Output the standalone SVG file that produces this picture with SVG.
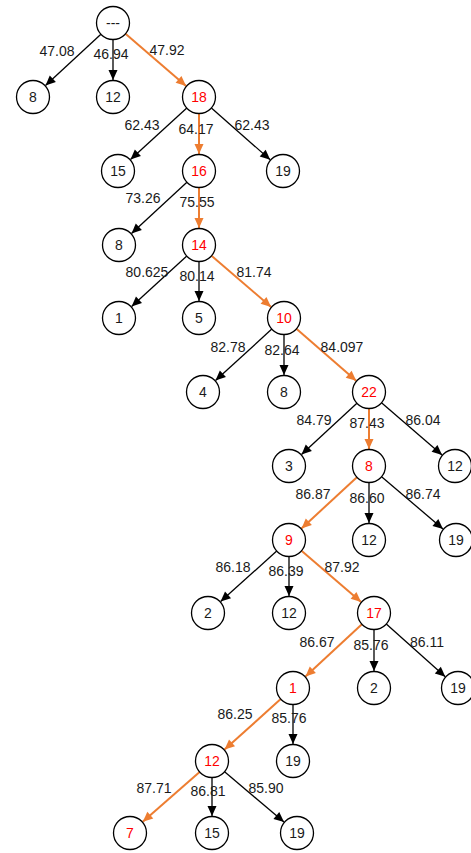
<svg xmlns="http://www.w3.org/2000/svg" width="471" height="853" viewBox="0 0 471 853">
<style>
.node circle{fill:#fff;stroke:#000;stroke-width:1.3}
.node text{font-family:"Liberation Sans",Arial,sans-serif;font-size:14px;text-anchor:middle;dominant-baseline:central;fill:#1a1a1a}
.node.hl text{fill:#ff0000}
.e{stroke:#000;stroke-width:1.3;fill:none;marker-end:url(#ab)}
.o{stroke:#ed7d31;stroke-width:2;fill:none;marker-end:url(#ao)}
.lbl text{font-family:"Liberation Sans",Arial,sans-serif;font-size:14px;text-anchor:middle;fill:#1a1a1a}
</style>
<defs>
<marker id="ab" markerUnits="userSpaceOnUse" viewBox="-10 -5 10 10" markerWidth="10" markerHeight="10" refX="0" refY="0" orient="auto" overflow="visible"><path d="M0,0 L-10,-4.5 L-10,4.5 Z" fill="#000"/></marker>
<marker id="ao" markerUnits="userSpaceOnUse" viewBox="-10 -5 10 10" markerWidth="10" markerHeight="10" refX="0" refY="0" orient="auto" overflow="visible"><path d="M0,0 L-10,-4.5 L-10,4.5 Z" fill="#ed7d31"/></marker>
</defs>
<g id="connectors">
<line class="e" x1="100.9" y1="34.2" x2="45.5" y2="85.5"/>
<line class="e" x1="113" y1="39.5" x2="113" y2="80"/>
<line class="o" x1="125.5" y1="33.8" x2="186.1" y2="85.9"/>
<line class="e" x1="186.8" y1="108.1" x2="130.5" y2="159.5"/>
<line class="o" x1="199" y1="113.5" x2="199" y2="154"/>
<line class="e" x1="211.4" y1="107.9" x2="270.2" y2="159.8"/>
<line class="e" x1="186.9" y1="182.2" x2="131.5" y2="233.5"/>
<line class="o" x1="199" y1="187.5" x2="199" y2="228"/>
<line class="e" x1="186.8" y1="256.1" x2="131.6" y2="306.5"/>
<line class="e" x1="199" y1="261.5" x2="199" y2="301"/>
<line class="o" x1="211.5" y1="255.8" x2="271.1" y2="306.9"/>
<line class="e" x1="271.8" y1="329.1" x2="215.5" y2="380.5"/>
<line class="e" x1="284" y1="334.5" x2="284" y2="375"/>
<line class="o" x1="296.4" y1="328.8" x2="356.2" y2="380.8"/>
<line class="e" x1="356.9" y1="403.2" x2="301.5" y2="454.5"/>
<line class="o" x1="369" y1="408.5" x2="369" y2="449"/>
<line class="e" x1="381.5" y1="402.8" x2="442.1" y2="454.9"/>
<line class="o" x1="356.9" y1="477.2" x2="301.5" y2="528.5"/>
<line class="e" x1="369" y1="482.5" x2="369" y2="523"/>
<line class="e" x1="381.6" y1="476.7" x2="443" y2="529"/>
<line class="e" x1="276.7" y1="551.1" x2="220.6" y2="601.6"/>
<line class="e" x1="289" y1="556.5" x2="289" y2="596"/>
<line class="o" x1="301.5" y1="550.8" x2="361.1" y2="601.9"/>
<line class="o" x1="361.9" y1="624.2" x2="305.5" y2="676.5"/>
<line class="e" x1="374" y1="629.5" x2="374" y2="671"/>
<line class="e" x1="386.3" y1="624" x2="445.3" y2="676.7"/>
<line class="o" x1="280.7" y1="699.1" x2="224.6" y2="749.6"/>
<line class="e" x1="293" y1="704.5" x2="293" y2="744"/>
<line class="o" x1="199.6" y1="771.9" x2="142.8" y2="821.8"/>
<line class="e" x1="212" y1="777.5" x2="212" y2="816"/>
<line class="e" x1="224.6" y1="771.7" x2="284" y2="822"/>
</g>
<g id="edge-labels" class="lbl">
<text x="57" y="56">47.08</text>
<text x="111" y="59">46.94</text>
<text x="167" y="55">47.92</text>
<text x="142" y="130">62.43</text>
<text x="196" y="134">64.17</text>
<text x="252" y="130">62.43</text>
<text x="143" y="203">73.26</text>
<text x="197" y="207">75.55</text>
<text x="147" y="277">80.625</text>
<text x="197" y="281">80.14</text>
<text x="254" y="277">81.74</text>
<text x="228" y="352">82.78</text>
<text x="282" y="355">82.64</text>
<text x="342" y="352">84.097</text>
<text x="314" y="425">84.79</text>
<text x="367" y="428">87.43</text>
<text x="423" y="425">86.04</text>
<text x="313" y="499">86.87</text>
<text x="367" y="503">86.60</text>
<text x="423" y="499">86.74</text>
<text x="233" y="572">86.18</text>
<text x="286" y="576">86.39</text>
<text x="342" y="572">87.92</text>
<text x="317" y="647">86.67</text>
<text x="371" y="650">85.76</text>
<text x="427" y="647">86.11</text>
<text x="235" y="719">86.25</text>
<text x="289" y="723">85.76</text>
<text x="154" y="793">87.71</text>
<text x="208" y="796">86.81</text>
<text x="266" y="793">85.90</text>
</g>
<g id="n0" class="node"><circle cx="113" cy="23" r="16.5"/><text x="113" y="23">---</text></g>
<g id="n1" class="node"><circle cx="33" cy="97" r="16.5"/><text x="33" y="97">8</text></g>
<g id="n2" class="node"><circle cx="113" cy="97" r="16.5"/><text x="113" y="97">12</text></g>
<g id="n3" class="node hl"><circle cx="199" cy="97" r="16.5"/><text x="199" y="97">18</text></g>
<g id="n4" class="node"><circle cx="118" cy="171" r="16.5"/><text x="118" y="171">15</text></g>
<g id="n5" class="node hl"><circle cx="199" cy="171" r="16.5"/><text x="199" y="171">16</text></g>
<g id="n6" class="node"><circle cx="283" cy="171" r="16.5"/><text x="283" y="171">19</text></g>
<g id="n7" class="node"><circle cx="119" cy="245" r="16.5"/><text x="119" y="245">8</text></g>
<g id="n8" class="node hl"><circle cx="199" cy="245" r="16.5"/><text x="199" y="245">14</text></g>
<g id="n9" class="node"><circle cx="119" cy="318" r="16.5"/><text x="119" y="318">1</text></g>
<g id="n10" class="node"><circle cx="199" cy="318" r="16.5"/><text x="199" y="318">5</text></g>
<g id="n11" class="node hl"><circle cx="284" cy="318" r="16.5"/><text x="284" y="318">10</text></g>
<g id="n12" class="node"><circle cx="203" cy="392" r="16.5"/><text x="203" y="392">4</text></g>
<g id="n13" class="node"><circle cx="284" cy="392" r="16.5"/><text x="284" y="392">8</text></g>
<g id="n14" class="node hl"><circle cx="369" cy="392" r="16.5"/><text x="369" y="392">22</text></g>
<g id="n15" class="node"><circle cx="289" cy="466" r="16.5"/><text x="289" y="466">3</text></g>
<g id="n16" class="node hl"><circle cx="369" cy="466" r="16.5"/><text x="369" y="466">8</text></g>
<g id="n17" class="node"><circle cx="455" cy="466" r="16.5"/><text x="455" y="466">12</text></g>
<g id="n18" class="node hl"><circle cx="289" cy="540" r="16.5"/><text x="289" y="540">9</text></g>
<g id="n19" class="node"><circle cx="369" cy="540" r="16.5"/><text x="369" y="540">12</text></g>
<g id="n20" class="node"><circle cx="456" cy="540" r="16.5"/><text x="456" y="540">19</text></g>
<g id="n21" class="node"><circle cx="208" cy="613" r="16.5"/><text x="208" y="613">2</text></g>
<g id="n22" class="node"><circle cx="289" cy="613" r="16.5"/><text x="289" y="613">12</text></g>
<g id="n23" class="node hl"><circle cx="374" cy="613" r="16.5"/><text x="374" y="613">17</text></g>
<g id="n24" class="node hl"><circle cx="293" cy="688" r="16.5"/><text x="293" y="688">1</text></g>
<g id="n25" class="node"><circle cx="374" cy="688" r="16.5"/><text x="374" y="688">2</text></g>
<g id="n26" class="node"><circle cx="458" cy="688" r="16.5"/><text x="458" y="688">19</text></g>
<g id="n27" class="node hl"><circle cx="212" cy="761" r="16.5"/><text x="212" y="761">12</text></g>
<g id="n28" class="node"><circle cx="293" cy="761" r="16.5"/><text x="293" y="761">19</text></g>
<g id="n29" class="node hl"><circle cx="130" cy="833" r="16.5"/><text x="130" y="833">7</text></g>
<g id="n30" class="node"><circle cx="212" cy="833" r="16.5"/><text x="212" y="833">15</text></g>
<g id="n31" class="node"><circle cx="297" cy="833" r="16.5"/><text x="297" y="833">19</text></g>
</svg>
